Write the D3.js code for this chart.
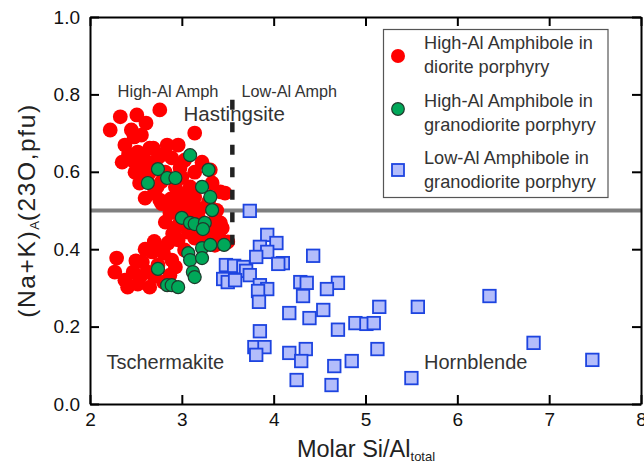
<!DOCTYPE html>
<html>
<head>
<meta charset="utf-8">
<script src="https://cdn.jsdelivr.net/npm/d3@7"></script>
<style>
  html, body { margin: 0; padding: 0; background: #fff; }
  svg { display: block; font-family: "Liberation Sans", Arial, sans-serif; }
</style>
</head>
<body>
<svg id="chart" width="644" height="463"></svg>
<script>
// Molar Si/Al_total vs (Na+K)_A for amphibole analyses
const xTicks = [2, 3, 4, 5, 6, 7, 8];
const yTicks = [0.0, 0.2, 0.4, 0.6, 0.8, 1.0];

// High-Al amphibole in diorite porphyry
const highAlDiorite = [
  [2.22,0.708],[2.33,0.742],[2.51,0.747],[2.61,0.726],[2.76,0.760],[2.45,0.708],[2.56,0.695],
  [2.38,0.669],[2.65,0.661],[3.14,0.700],[2.35,0.625],[2.52,0.651],[2.69,0.661],[2.84,0.669],
  [2.96,0.669],[2.46,0.630],[2.60,0.630],[2.74,0.636],[2.89,0.636],[3.03,0.630],[3.22,0.625],
  [2.49,0.599],[2.65,0.599],[2.82,0.599],[2.98,0.610],[3.14,0.599],[3.31,0.605],[2.54,0.571],
  [2.73,0.561],[2.93,0.561],[3.09,0.561],[3.33,0.571],[2.60,0.532],[2.76,0.527],[2.96,0.535],
  [3.14,0.535],[3.42,0.548],[3.47,0.545],[2.78,0.518],[2.87,0.494],[3.07,0.518],[3.18,0.481],
  [3.33,0.468],[3.42,0.468],[3.44,0.455],[3.01,0.503],[2.82,0.470],[2.93,0.455],[3.07,0.444],
  [3.29,0.444],[3.14,0.429],[3.50,0.419],[2.96,0.424],[2.85,0.416],[2.76,0.403],[2.68,0.393],
  [2.29,0.377],[2.27,0.341],[2.41,0.302],[2.52,0.310],[2.65,0.302],[2.57,0.367],[2.47,0.341],
  [2.63,0.341],[2.89,0.372],[2.93,0.354],[2.80,0.315],[2.87,0.333],[2.38,0.320],[2.74,0.359],
  [3.03,0.398],[3.29,0.522],[3.36,0.410],
  [2.42,0.645],[2.57,0.610],[2.70,0.620],[2.80,0.645],[2.62,0.580],[2.78,0.575],[3.00,0.585],
  [2.70,0.545],[2.88,0.530],[3.05,0.545],[2.92,0.510],[3.20,0.505],[2.98,0.470],[3.12,0.490],
  [3.38,0.500],[3.26,0.430],[3.40,0.435],[2.90,0.440],[3.18,0.455],[2.70,0.420],[2.60,0.400],
  [2.80,0.390],[2.50,0.370],[2.70,0.330],[2.55,0.330],[2.48,0.690]
];

// High-Al amphibole in granodiorite porphyry
const highAlGranodiorite = [
  [3.09,0.643],[3.29,0.605],[2.74,0.607],[2.63,0.571],[2.84,0.584],[2.93,0.584],[3.22,0.561],
  [3.31,0.535],[3.33,0.501],[3.00,0.481],[3.09,0.468],[3.14,0.465],[3.25,0.468],[3.23,0.452],
  [3.22,0.403],[3.31,0.411],[3.07,0.390],[3.09,0.372],[3.22,0.377],[3.12,0.341],[3.14,0.328],
  [2.74,0.349],[2.84,0.307],[2.89,0.307],[2.96,0.302],[3.46,0.411]
];

// Low-Al amphibole in granodiorite porphyry
const lowAlGranodiorite = [
  [3.74,0.499],[3.93,0.437],[4.03,0.416],[3.85,0.406],[3.93,0.393],[3.81,0.380],[4.43,0.383],
  [4.10,0.364],[4.05,0.362],[3.48,0.359],[3.57,0.357],[3.67,0.354],[3.70,0.344],[3.74,0.333],
  [3.45,0.323],[3.50,0.315],[3.58,0.320],[3.85,0.307],[3.93,0.297],[3.83,0.292],[3.84,0.264],
  [4.29,0.315],[4.36,0.313],[4.70,0.313],[4.58,0.297],[4.32,0.279],[5.15,0.251],[4.17,0.235],
  [4.54,0.243],[4.39,0.222],[4.89,0.209],[5.01,0.207],[5.09,0.209],[3.85,0.188],[4.70,0.192],
  [5.57,0.251],[3.79,0.147],[3.90,0.147],[3.81,0.127],[4.17,0.132],[4.35,0.142],[4.30,0.111],
  [4.66,0.098],[4.85,0.111],[5.13,0.142],[4.25,0.062],[4.63,0.049],[5.50,0.067],[6.35,0.279],
  [6.83,0.158],[7.47,0.114]
];

const legendLabels = [
  ["High-Al Amphibole in", "diorite porphyry"],
  ["High-Al Amphibole in", "granodiorite porphyry"],
  ["Low-Al Amphibole in", "granodiorite porphyry"]
];

// Boundary between the High-Al and Low-Al groups, and the Hastingsite line
const siAlDivider = 3.55;
const dividerRange = [0.408, 0.786];
const naKThreshold = 0.5;

const svg = d3.select("#chart");
const plotLeft = 90, plotRight = 641, plotTop = 17, plotBottom = 404;

const x = d3.scaleLinear().domain([2, 8]).range([plotLeft, plotRight]);
const y = d3.scaleLinear().domain([0, 1]).range([plotBottom, plotTop]);

const RED = "#ff0000", GREEN = "#00a859", GREEN_STROKE = "#1f3a2c";
const BLUE_FILL = "#b3bdfb", BLUE_STROKE = "#1d44e0";

// Hastingsite threshold (behind all points)
svg.append("line")
  .attr("x1", x(2)).attr("x2", x(8))
  .attr("y1", y(naKThreshold)).attr("y2", y(naKThreshold))
  .attr("stroke", "#808080").attr("stroke-width", 4);

// Points
svg.append("g").selectAll("circle").data(highAlDiorite).join("circle")
  .attr("cx", d => x(d[0])).attr("cy", d => y(d[1])).attr("r", 7.4)
  .attr("fill", RED);

svg.append("line")
  .attr("x1", x(siAlDivider)).attr("x2", x(siAlDivider))
  .attr("y1", y(dividerRange[1])).attr("y2", y(dividerRange[0]))
  .attr("stroke", "#222").attr("stroke-width", 4.5)
  .attr("stroke-dasharray", "10,12.5");

svg.append("g").selectAll("circle").data(highAlGranodiorite).join("circle")
  .attr("cx", d => x(d[0])).attr("cy", d => y(d[1])).attr("r", 6.5)
  .attr("fill", GREEN).attr("stroke", GREEN_STROKE).attr("stroke-width", 1.2);

const sq = 12.5;
svg.append("g").selectAll("rect").data(lowAlGranodiorite).join("rect")
  .attr("x", d => x(d[0]) - sq / 2).attr("y", d => y(d[1]) - sq / 2)
  .attr("width", sq).attr("height", sq)
  .attr("fill", BLUE_FILL).attr("stroke", BLUE_STROKE).attr("stroke-width", 1.8);

// Field labels
const labels = [
  { t: "High-Al Amph", x: 2.85, y: 0.793, s: 16.5 },
  { t: "Low-Al Amph", x: 4.17, y: 0.793, s: 16.2 },
  { t: "Hastingsite", x: 3.57, y: 0.731, s: 20.5 },
  { t: "Tschermakite", x: 2.82, y: 0.090, s: 20 },
  { t: "Hornblende", x: 6.20, y: 0.090, s: 20 }
];
svg.append("g").selectAll("text").data(labels).join("text")
  .attr("x", d => x(d.x)).attr("y", d => y(d.y))
  .attr("text-anchor", "middle").attr("font-size", d => d.s)
  .attr("fill", "#333").text(d => d.t);

// Axes with inward ticks on all four sides
function styleAxis(g) {
  g.select(".domain").attr("stroke", "#000").attr("stroke-width", 2);
  g.selectAll(".tick line").attr("stroke", "#000").attr("stroke-width", 2);
  g.selectAll(".tick text").attr("fill", "#111").attr("font-size", 19)
    .attr("font-family", '"Liberation Sans", Arial, sans-serif');
}
svg.append("g").attr("transform", `translate(0,${plotBottom})`)
  .call(d3.axisBottom(x).tickValues(xTicks).tickFormat(d3.format("d"))
    .tickSizeInner(-9).tickSizeOuter(0).tickPadding(9))
  .call(styleAxis);
svg.append("g").attr("transform", `translate(0,${plotTop})`)
  .call(d3.axisTop(x).tickValues(xTicks).tickFormat("")
    .tickSizeInner(-9).tickSizeOuter(0))
  .call(styleAxis);
svg.append("g").attr("transform", `translate(${plotLeft},0)`)
  .call(d3.axisLeft(y).tickValues(yTicks).tickFormat(d3.format(".1f"))
    .tickSizeInner(-9).tickSizeOuter(0).tickPadding(10))
  .call(styleAxis);
svg.append("g").attr("transform", `translate(${plotRight},0)`)
  .call(d3.axisRight(y).tickValues(yTicks).tickFormat("")
    .tickSizeInner(-9).tickSizeOuter(0))
  .call(styleAxis);

// Axis titles
const xt = svg.append("text").attr("x", 366).attr("y", 457)
  .attr("text-anchor", "middle").attr("font-size", 23.5).attr("fill", "#222");
xt.append("tspan").text("Molar Si/Al");
xt.append("tspan").attr("font-size", 13).attr("dy", 4).text("total");

const yt = svg.append("text")
  .attr("transform", `translate(35,${(plotTop + plotBottom) / 2}) rotate(-90)`)
  .attr("text-anchor", "middle").attr("font-size", 24.5).attr("fill", "#222")
  .attr("letter-spacing", 1.6);
yt.append("tspan").text("(Na+K)");
yt.append("tspan").attr("font-size", 13).attr("dy", 4).attr("letter-spacing", 0).text("A");
yt.append("tspan").attr("dy", -4).text("(23O,pfu)");

// Legend
const lg = svg.append("g");
lg.append("rect").attr("x", 383.5).attr("y", 29.5).attr("width", 224.5).attr("height", 168)
  .attr("fill", "#fff").attr("stroke", "#555").attr("stroke-width", 1.2);
const rowY = [56, 109, 170];
lg.append("circle").attr("cx", 398).attr("cy", rowY[0]).attr("r", 7).attr("fill", RED);
lg.append("circle").attr("cx", 398).attr("cy", rowY[1]).attr("r", 6.3)
  .attr("fill", GREEN).attr("stroke", GREEN_STROKE).attr("stroke-width", 1.2);
lg.append("rect").attr("x", 398 - 6).attr("y", rowY[2] - 6).attr("width", 12).attr("height", 12)
  .attr("fill", BLUE_FILL).attr("stroke", BLUE_STROKE).attr("stroke-width", 1.8);
const textTop = [49, 107, 164];
legendLabels.forEach((lines, i) => {
  lines.forEach((line, j) => {
    lg.append("text").attr("x", 424).attr("y", textTop[i] + j * 23.5)
      .attr("font-size", 18.2).attr("fill", "#333").text(line);
  });
});
</script>
</body>
</html>
